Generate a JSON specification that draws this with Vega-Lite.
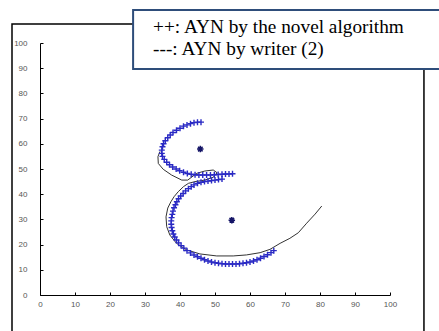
{
  "$schema": "https://vega.github.io/schema/vega-lite/v6.json",
  "width": 350,
  "height": 252,
  "autosize": "none",
  "padding": {"left": 40, "top": 43, "right": 49, "bottom": 36},
  "background": "white",
  "config": {
    "view": {"stroke": null},
    "axis": {
      "domainColor": "#000000",
      "domainWidth": 1,
      "tickColor": "#000000",
      "tickSize": -3,
      "tickWidth": 1,
      "labelFont": "Liberation Sans",
      "labelFontSize": 8,
      "labelColor": "#555555",
      "labelOverlap": false,
      "labelBound": false,
      "labelFlush": false,
      "grid": false,
      "title": null
    },
    "axisX": {"labelPadding": 8},
    "axisY": {"labelPadding": 16}
  },
  "datasets": {
    "one": [{"k": 1}],
    "writer": [
      {"i": 1, "x": 34.3, "y": 57.0},
      {"i": 2, "x": 33.7, "y": 54.9},
      {"i": 3, "x": 33.8, "y": 52.2},
      {"i": 4, "x": 35.2, "y": 49.9},
      {"i": 5, "x": 37.6, "y": 47.6},
      {"i": 6, "x": 40.5, "y": 45.6},
      {"i": 7, "x": 42.2, "y": 45.6},
      {"i": 8, "x": 44.8, "y": 48.3},
      {"i": 9, "x": 47.1, "y": 49.2},
      {"i": 10, "x": 49.5, "y": 49.6},
      {"i": 11, "x": 50.6, "y": 48.5},
      {"i": 12, "x": 49.5, "y": 46.7},
      {"i": 13, "x": 47.1, "y": 45.6},
      {"i": 14, "x": 44.3, "y": 45.0},
      {"i": 15, "x": 42.4, "y": 44.3},
      {"i": 16, "x": 41.0, "y": 43.0},
      {"i": 17, "x": 39.5, "y": 41.0},
      {"i": 18, "x": 38.3, "y": 39.0},
      {"i": 19, "x": 37.4, "y": 37.0},
      {"i": 20, "x": 36.5, "y": 34.5},
      {"i": 21, "x": 36.0, "y": 31.0},
      {"i": 22, "x": 36.2, "y": 27.1},
      {"i": 23, "x": 37.1, "y": 23.8},
      {"i": 24, "x": 39.0, "y": 20.5},
      {"i": 25, "x": 41.9, "y": 17.9},
      {"i": 26, "x": 45.7, "y": 16.3},
      {"i": 27, "x": 50.5, "y": 15.5},
      {"i": 28, "x": 55.2, "y": 15.5},
      {"i": 29, "x": 59.0, "y": 15.9},
      {"i": 30, "x": 62.9, "y": 16.8},
      {"i": 31, "x": 65.7, "y": 18.1},
      {"i": 32, "x": 68.6, "y": 20.5},
      {"i": 33, "x": 71.4, "y": 22.5},
      {"i": 34, "x": 73.8, "y": 24.7},
      {"i": 35, "x": 76.2, "y": 28.5},
      {"i": 36, "x": 78.6, "y": 32.1},
      {"i": 37, "x": 80.5, "y": 35.3}
    ],
    "algo": [
      {"x": 46.0, "y": 68.6}, {"x": 45.0, "y": 68.6}, {"x": 44.0, "y": 68.4}, {"x": 43.0, "y": 68.0},
      {"x": 42.0, "y": 67.5}, {"x": 41.0, "y": 67.0}, {"x": 40.0, "y": 66.2}, {"x": 39.0, "y": 65.4},
      {"x": 38.0, "y": 64.5}, {"x": 37.2, "y": 63.5}, {"x": 36.5, "y": 62.4}, {"x": 35.8, "y": 61.2},
      {"x": 35.3, "y": 60.0}, {"x": 35.0, "y": 58.8}, {"x": 34.8, "y": 57.5}, {"x": 34.8, "y": 56.2},
      {"x": 35.0, "y": 55.0}, {"x": 35.5, "y": 53.8}, {"x": 36.2, "y": 52.7}, {"x": 37.0, "y": 51.7},
      {"x": 37.9, "y": 50.8}, {"x": 38.9, "y": 50.0}, {"x": 39.9, "y": 49.3}, {"x": 41.0, "y": 48.7},
      {"x": 42.1, "y": 48.2}, {"x": 43.2, "y": 47.9}, {"x": 44.3, "y": 47.7}, {"x": 45.4, "y": 47.6},
      {"x": 46.5, "y": 47.6}, {"x": 47.6, "y": 47.6}, {"x": 48.7, "y": 47.6}, {"x": 49.8, "y": 47.7},
      {"x": 50.9, "y": 47.8}, {"x": 52.0, "y": 47.9}, {"x": 53.0, "y": 48.0}, {"x": 54.0, "y": 48.0},
      {"x": 55.0, "y": 48.1},
      {"x": 52.0, "y": 46.0}, {"x": 51.0, "y": 45.8}, {"x": 50.0, "y": 45.6}, {"x": 49.0, "y": 45.4},
      {"x": 48.0, "y": 45.2}, {"x": 47.0, "y": 45.0}, {"x": 46.0, "y": 44.7}, {"x": 45.0, "y": 44.3},
      {"x": 44.0, "y": 43.7}, {"x": 43.2, "y": 43.0}, {"x": 42.4, "y": 42.2}, {"x": 41.6, "y": 41.3},
      {"x": 40.9, "y": 40.3}, {"x": 40.2, "y": 39.3}, {"x": 39.6, "y": 38.2}, {"x": 39.1, "y": 37.0},
      {"x": 38.7, "y": 35.8}, {"x": 38.3, "y": 34.6}, {"x": 38.0, "y": 33.3}, {"x": 37.8, "y": 32.0},
      {"x": 37.6, "y": 30.7}, {"x": 37.5, "y": 29.4}, {"x": 37.5, "y": 28.1}, {"x": 37.6, "y": 26.8},
      {"x": 37.8, "y": 25.5}, {"x": 38.1, "y": 24.2}, {"x": 38.5, "y": 23.0}, {"x": 39.0, "y": 21.8},
      {"x": 39.6, "y": 20.7}, {"x": 40.3, "y": 19.6}, {"x": 41.1, "y": 18.6}, {"x": 42.0, "y": 17.6},
      {"x": 43.0, "y": 16.7}, {"x": 44.0, "y": 15.9}, {"x": 45.0, "y": 15.2}, {"x": 46.0, "y": 14.6},
      {"x": 47.0, "y": 14.0}, {"x": 48.0, "y": 13.5}, {"x": 49.0, "y": 13.1}, {"x": 50.0, "y": 12.8},
      {"x": 51.0, "y": 12.6}, {"x": 52.0, "y": 12.4}, {"x": 53.0, "y": 12.3}, {"x": 54.0, "y": 12.3},
      {"x": 55.0, "y": 12.3}, {"x": 56.0, "y": 12.3}, {"x": 57.0, "y": 12.4}, {"x": 58.0, "y": 12.6},
      {"x": 59.0, "y": 12.8}, {"x": 60.0, "y": 13.1}, {"x": 61.0, "y": 13.5}, {"x": 62.0, "y": 14.0},
      {"x": 63.0, "y": 14.6}, {"x": 64.0, "y": 15.3}, {"x": 65.0, "y": 16.0}, {"x": 66.0, "y": 16.8},
      {"x": 66.8, "y": 17.6}
    ],
    "centers": [
      {"x": 45.8, "y": 57.9},
      {"x": 54.8, "y": 29.7}
    ]
  },
  "layer": [
    {
      "data": {"name": "one"},
      "mark": {"type": "rect", "filled": false, "stroke": "#000000", "strokeWidth": 1.5, "clip": false},
      "encoding": {
        "x": {"datum": -8, "type": "quantitative", "scale": {"domain": [0, 100], "nice": false}, "axis": {"values": [0, 10, 20, 30, 40, 50, 60, 70, 80, 90, 100], "tickCount": 11}},
        "x2": {"datum": 109.7},
        "y": {"datum": 107.5, "type": "quantitative", "scale": {"domain": [0, 100], "nice": false}, "axis": {"values": [0, 10, 20, 30, 40, 50, 60, 70, 80, 90, 100], "tickCount": 11}},
        "y2": {"datum": -16}
      }
    },
    {
      "data": {"name": "writer"},
      "mark": {"type": "line", "color": "#333333", "strokeWidth": 1},
      "encoding": {
        "x": {"field": "x", "type": "quantitative", "axis": {"values": [0, 10, 20, 30, 40, 50, 60, 70, 80, 90, 100], "tickCount": 11}},
        "y": {"field": "y", "type": "quantitative", "axis": {"values": [0, 10, 20, 30, 40, 50, 60, 70, 80, 90, 100], "tickCount": 11}},
        "order": {"field": "i", "type": "quantitative"}
      }
    },
    {
      "data": {"name": "algo"},
      "mark": {"type": "point", "shape": "M-1,0L1,0M0,-1L0,1", "filled": false, "stroke": "#2a2ac4", "strokeWidth": 1.4, "size": 36, "opacity": 1},
      "encoding": {
        "x": {"field": "x", "type": "quantitative"},
        "y": {"field": "y", "type": "quantitative"}
      }
    },
    {
      "data": {"name": "centers"},
      "mark": {"type": "point", "shape": "M-1,0L1,0M0,-1L0,1M-0.7,-0.7L0.7,0.7M-0.7,0.7L0.7,-0.7", "filled": false, "stroke": "#141466", "strokeWidth": 1.5, "size": 42, "opacity": 1},
      "encoding": {
        "x": {"field": "x", "type": "quantitative"},
        "y": {"field": "y", "type": "quantitative"}
      }
    },
    {
      "data": {"name": "one"},
      "mark": {"type": "rect", "fill": "white", "stroke": "#2e4d7a", "strokeWidth": 2, "clip": false},
      "encoding": {
        "x": {"datum": 26.6, "type": "quantitative"},
        "x2": {"datum": 116},
        "y": {"datum": 113.1, "type": "quantitative"},
        "y2": {"datum": 89.7}
      }
    },
    {
      "data": {"name": "one"},
      "mark": {"type": "text", "text": "++: AYN by the novel algorithm", "font": "Liberation Serif", "fontSize": 19.3, "align": "left", "baseline": "alphabetic", "color": "#000000", "clip": false},
      "encoding": {
        "x": {"datum": 32.3, "type": "quantitative"},
        "y": {"datum": 103.8, "type": "quantitative"}
      }
    },
    {
      "data": {"name": "one"},
      "mark": {"type": "text", "text": "---: AYN by writer (2)", "font": "Liberation Serif", "fontSize": 19.3, "align": "left", "baseline": "alphabetic", "color": "#000000", "clip": false},
      "encoding": {
        "x": {"datum": 32.3, "type": "quantitative"},
        "y": {"datum": 95.2, "type": "quantitative"}
      }
    }
  ]
}
